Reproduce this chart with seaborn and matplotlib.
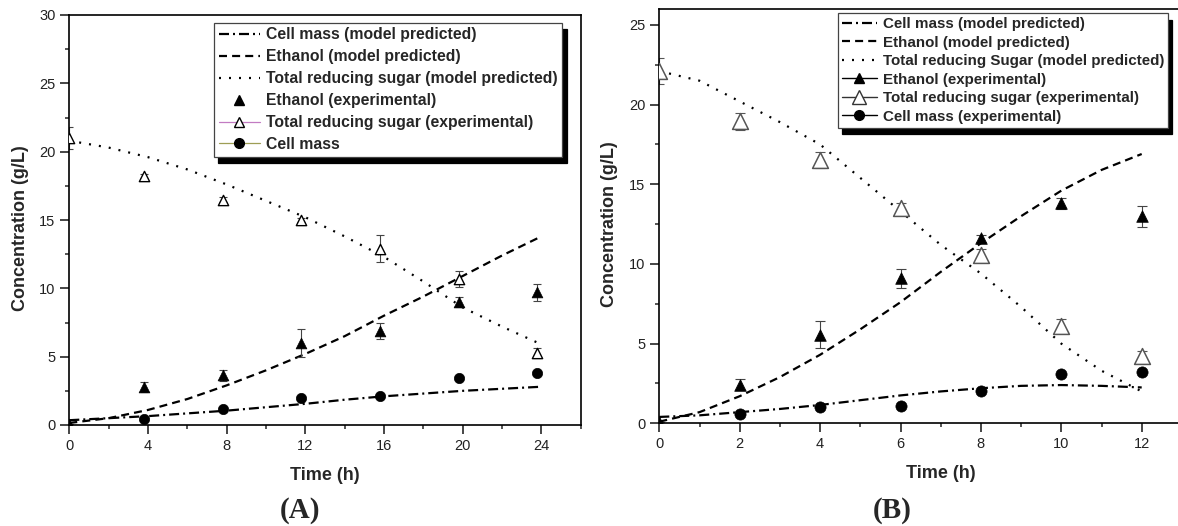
import matplotlib
matplotlib.use("Agg")
import matplotlib.pyplot as plt
import seaborn as sns
from matplotlib.lines import Line2D
from matplotlib.ticker import MultipleLocator, FixedLocator

# ---------------- Panel A data ----------------
a_model_t = [0, 2, 4, 6, 8, 10, 12, 14, 16, 18, 20, 22, 24]
a_cell_model = [0.35, 0.5, 0.65, 0.85, 1.05, 1.3, 1.55, 1.85, 2.1, 2.3, 2.5, 2.65, 2.8]
a_eth_model = [0.15, 0.5, 1.1, 1.9, 2.9, 4.0, 5.2, 6.5, 8.0, 9.4, 10.9, 12.4, 13.8]
a_sug_model = [20.8, 20.3, 19.6, 18.7, 17.6, 16.4, 15.2, 13.8, 12.3, 10.5, 8.6, 7.2, 5.9]

a_sug_t = [0, 3.8, 7.8, 11.8, 15.8, 19.8, 23.8]
a_sug_exp = [21.0, 18.25, 16.5, 15.0, 12.9, 10.7, 5.25]
a_sug_err = [0.8, 0.15, 0.2, 0.15, 1.0, 0.6, 0.35]

a_eth_t = [0, 3.8, 7.8, 11.8, 15.8, 19.8, 23.8]
a_eth_exp = [0.1, 2.8, 3.65, 6.0, 6.9, 9.0, 9.7]
a_eth_err = [0.0, 0.35, 0.4, 1.05, 0.6, 0.35, 0.65]

a_cell_t = [3.8, 7.8, 11.8, 15.8, 19.8, 23.8]
a_cell_exp = [0.45, 1.15, 2.0, 2.1, 3.45, 3.8]

# ---------------- Panel B data ----------------
b_model_t = [0, 1, 2, 3, 4, 5, 6, 7, 8, 9, 10, 11, 12]
b_cell_model = [0.4, 0.5, 0.7, 0.9, 1.15, 1.45, 1.75, 2.0, 2.2, 2.35, 2.4, 2.35, 2.25]
b_eth_model = [0.1, 0.7, 1.7, 2.9, 4.3, 5.9, 7.6, 9.5, 11.3, 13.0, 14.6, 15.9, 16.9]
b_sug_model = [22.1, 21.5, 20.2, 18.9, 17.5, 15.4, 13.3, 11.2, 9.4, 7.3, 5.0, 3.3, 2.0]

b_sug_t = [0, 2, 4, 6, 8, 10, 12]
b_sug_exp = [22.1, 18.95, 16.5, 13.5, 10.55, 6.1, 4.2]
b_sug_err = [0.8, 0.55, 0.5, 0.3, 0.4, 0.45, 0.35]

b_eth_t = [0, 2, 4, 6, 8, 10, 12]
b_eth_exp = [0.1, 2.43, 5.55, 9.1, 11.6, 13.8, 13.0]
b_eth_err = [0.0, 0.35, 0.85, 0.6, 0.2, 0.35, 0.65]

b_cell_t = [2, 4, 6, 8, 10, 12]
b_cell_exp = [0.6, 1.05, 1.1, 2.05, 3.1, 3.25]

a_xticks = [0, 4, 8, 12, 16, 20, 24]
b_xticks = [0, 2, 4, 6, 8, 10, 12]

a_legend = ["Cell mass (model predicted)", "Ethanol (model predicted)",
            "Total reducing sugar (model predicted)", "Ethanol (experimental)",
            "Total reducing sugar (experimental)", "Cell mass"]
b_legend = ["Cell mass (model predicted)", "Ethanol (model predicted)",
            "Total reducing Sugar (model predicted)", "Ethanol (experimental)",
            "Total reducing sugar (experimental)", "Cell mass (experimental)"]

# ---------------- style ----------------
sns.set_theme(style="ticks")
plt.rcParams['font.family'] = ['Liberation Sans', 'DejaVu Sans']
plt.rcParams['axes.linewidth'] = 1.2

LW = 1.6
DASHDOT = (0, (4.5, 1.8, 0.9, 1.8))
DASHED = (0, (3.6, 2.3))
DOTTED = (0, (0.9, 3.6))

W, H = 1178, 526
fig = plt.figure(figsize=(W / 100, H / 100), dpi=100)
fig.patch.set_facecolor('white')

axA = fig.add_axes([69.3 / W, 1 - 425 / H, (580.7 - 69.3) / W, (425 - 15) / H])
axB = fig.add_axes([659.3 / W, 1 - 423.3 / H, 14 * 40.2 / W, (423.3 - 9) / H])


def style_axes(ax, xmax, ymax, xticks, xmin_, ylabx):
    ax.set_xlim(0, xmax)
    ax.set_ylim(0, ymax)
    ax.xaxis.set_major_locator(FixedLocator(xticks))
    ax.xaxis.set_minor_locator(MultipleLocator(xmin_))
    ax.yaxis.set_major_locator(MultipleLocator(5))
    ax.yaxis.set_minor_locator(MultipleLocator(2.5))
    ax.tick_params(which='major', direction='out', length=6.5, width=1.2,
                   labelsize=10.5, labelcolor='#222222', pad=3.5)
    ax.tick_params(which='minor', direction='out', length=3.2, width=1.1)
    for s in ax.spines.values():
        s.set_color('black')
        s.set_linewidth(1.2)
    ax.set_xlabel("Time (h)", fontsize=13, fontweight='bold')
    ax.set_ylabel("Concentration (g/L)", fontsize=13, fontweight='bold')
    ax.xaxis.set_label_coords(0.5, -0.122)
    ax.xaxis.label.set_va('center')
    ax.yaxis.set_label_coords(ylabx, 0.48)
    ax.yaxis.label.set_va('center')
    ax.set_facecolor('white')


def draw_models(ax, t, cell, eth, sug):
    sns.lineplot(x=t, y=cell, ax=ax, color='black', lw=LW, linestyle=DASHDOT)
    sns.lineplot(x=t, y=eth, ax=ax, color='black', lw=LW, linestyle=DASHED)
    sns.lineplot(x=t, y=sug, ax=ax, color='black', lw=LW, linestyle=DOTTED)


# ---------------- Panel A ----------------
style_axes(axA, 26, 30, a_xticks, 2, -0.095)
draw_models(axA, a_model_t, a_cell_model, a_eth_model, a_sug_model)
axA.errorbar(a_sug_t, a_sug_exp, yerr=a_sug_err, fmt='none', ecolor='#444444',
             elinewidth=0.8, capsize=3, capthick=0.8, zorder=2)
axA.errorbar(a_eth_t, a_eth_exp, yerr=a_eth_err, fmt='none', ecolor='#444444',
             elinewidth=0.8, capsize=3, capthick=0.8, zorder=2)
sns.scatterplot(x=a_sug_t, y=a_sug_exp, ax=axA, marker='^', s=55, color='white',
                edgecolor='black', linewidth=1.0, zorder=3)
sns.scatterplot(x=a_eth_t, y=a_eth_exp, ax=axA, marker='^', s=60, color='black',
                edgecolor='black', linewidth=0.5, zorder=3)
sns.scatterplot(x=a_cell_t, y=a_cell_exp, ax=axA, marker='o', s=55, color='black',
                edgecolor='black', linewidth=0.5, zorder=3)

hA = [Line2D([], [], color='black', lw=LW, ls=DASHDOT),
      Line2D([], [], color='black', lw=LW, ls=DASHED),
      Line2D([], [], color='black', lw=LW, ls=DOTTED),
      Line2D([], [], color='none', marker='^', mfc='black', mec='black', ms=7.5),
      Line2D([], [], color='#c27bc2', lw=0.9, marker='^', mfc='white', mec='black', ms=7.5),
      Line2D([], [], color='#9e9e55', lw=0.9, marker='o', mfc='black', mec='black', ms=7)]
legA = axA.legend(handles=hA, labels=a_legend, loc='upper left',
                  bbox_to_anchor=(214.3 / W, 1 - 22.7 / H), bbox_transform=fig.transFigure,
                  borderaxespad=0, frameon=True, fancybox=False, framealpha=1,
                  edgecolor='#444444', facecolor='white',
                  shadow={'ox': 3, 'oy': -4.5, 'color': 'black', 'alpha': 1},
                  borderpad=0.3, handlelength=2.6, handletextpad=0.4, labelspacing=0.44,
                  prop={'weight': 'bold', 'size': 11.3})
legA.get_frame().set_linewidth(0.9)

# ---------------- Panel B ----------------
style_axes(axB, 14, 26, b_xticks, 1, -0.089)
axB.spines['right'].set_visible(False)
draw_models(axB, b_model_t, b_cell_model, b_eth_model, b_sug_model)
axB.errorbar(b_sug_t, b_sug_exp, yerr=b_sug_err, fmt='none', ecolor='#555555',
             elinewidth=0.8, capsize=3.5, capthick=0.8, zorder=2)
axB.errorbar(b_eth_t, b_eth_exp, yerr=b_eth_err, fmt='none', ecolor='#444444',
             elinewidth=0.8, capsize=3.5, capthick=0.8, zorder=2)
sns.scatterplot(x=b_sug_t, y=b_sug_exp, ax=axB, marker='^', s=130, color='white',
                edgecolor='#555555', linewidth=1.1, zorder=3)
sns.scatterplot(x=b_eth_t, y=b_eth_exp, ax=axB, marker='^', s=70, color='black',
                edgecolor='black', linewidth=0.5, zorder=3)
sns.scatterplot(x=b_cell_t, y=b_cell_exp, ax=axB, marker='o', s=65, color='black',
                edgecolor='black', linewidth=0.5, zorder=3)

hB = [Line2D([], [], color='black', lw=LW, ls=DASHDOT),
      Line2D([], [], color='black', lw=LW, ls=DASHED),
      Line2D([], [], color='black', lw=LW, ls=DOTTED),
      Line2D([], [], color='black', lw=1.0, marker='^', mfc='black', mec='black', ms=7.5),
      Line2D([], [], color='#333333', lw=1.0, marker='^', mfc='white', mec='#333333', ms=10),
      Line2D([], [], color='black', lw=1.0, marker='o', mfc='black', mec='black', ms=7)]
legB = axB.legend(handles=hB, labels=b_legend, loc='upper left',
                  bbox_to_anchor=(838.2 / W, 1 - 13.3 / H), bbox_transform=fig.transFigure,
                  borderaxespad=0, frameon=True, fancybox=False, framealpha=1,
                  edgecolor='#444444', facecolor='white',
                  shadow={'ox': 3, 'oy': -4.5, 'color': 'black', 'alpha': 1},
                  borderpad=0.25, handlelength=2.3, handletextpad=0.4, labelspacing=0.3,
                  prop={'weight': 'bold', 'size': 10.9})
legB.get_frame().set_linewidth(0.9)

# ---------------- panel captions ----------------
fig.text(300 / W, 1 - 510 / H, "(A)", ha='center', va='center', fontsize=21,
         fontweight='bold', family=['Liberation Serif', 'DejaVu Serif'])
fig.text(892 / W, 1 - 510 / H, "(B)", ha='center', va='center', fontsize=21,
         fontweight='bold', family=['Liberation Serif', 'DejaVu Serif'])

fig.savefig("out.png", dpi=100, facecolor='white')
